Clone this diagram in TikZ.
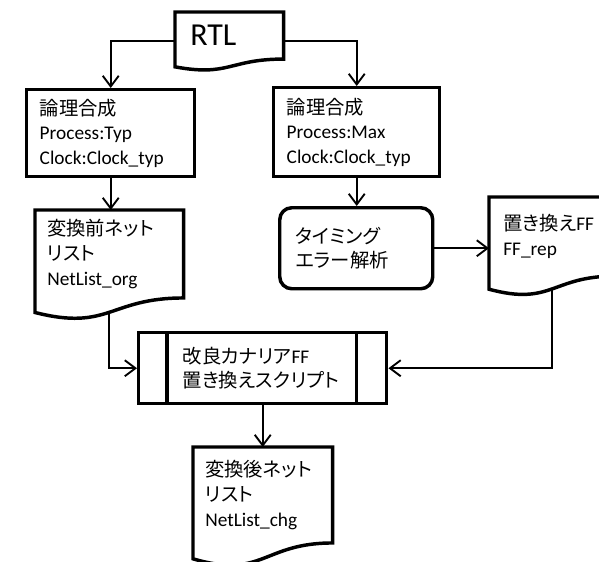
\documentclass[tikz,border=0pt]{standalone}
\usepackage{fontspec}
\setmainfont{Carlito}
\newfontfamily\jp{Noto Sans CJK JP}[RawFeature=+palt]
\usetikzlibrary{calc}
\usetikzlibrary{arrows.meta}

% document shape with a wavy foot below the node
\newcommand{\drawdoc}[1]{%
        \draw [boxline] let \p1 = ($(#1.north)-(#1.south)$) in
            (#1.north west) -- (#1.north east) -- (#1.south east)
            .. controls (#1.south) and ($(#1.south)+(0pt,-0.380*\y1)$) ..
            ($(#1.south west)+(0pt,-0.165*\y1)$) -- cycle;
        \path let \p1 = ($(#1.north)-(#1.south)$) in
            ($(#1.south)+(0pt,-0.1636*\y1)$) coordinate (#1-foot);
}

\begin{document}
\begin{tikzpicture}[x = 0.75pt, y = -0.75pt,
        boxline/.style = {line width = 2.6pt, line join = miter},
        link/.style = {line width = 1.4pt, arrows = -{Straight Barb[length = 8pt, width = 12pt]}},
        boxtext/.style = {anchor = north west, align = left, font = \fontsize{14.5pt}{18.5pt}\selectfont}]
        %   \draw [help lines, step = 50] (0,0) grid (599,561);
        \useasboundingbox (0,0) rectangle (599,561);
        \clip (0,0) rectangle (599,561);

        \node [boxtext, font = \fontsize{24pt}{28pt}\selectfont, minimum height = 34.9pt, text width = 58.5pt, inner xsep = 11.25pt] (rtl) at (175,12)
        {
        RTL
        };

        \node [boxtext, draw, boxline, minimum height = 65.25pt, text width = 106.5pt, inner xsep = 9.75pt] (syntyp) at (25,88)
        {
        {\jp 論理合成}\\Process:Typ\\Clock:Clock\_typ
        };

        \node [boxtext, draw, boxline, minimum height = 66.75pt, text width = 105pt, inner xsep = 9.75pt] (synmax) at (272,86)
        {
        {\jp 論理合成}\\Process:Max\\Clock:Clock\_typ
        };

        \node [boxtext, minimum height = 65.57pt, text width = 93pt, inner xsep = 9pt] (netorg) at (35,210)
        {
        {\jp 変換前ネット}\\{\jp リスト}\\NetList\_org
        };

        \node [boxtext, draw, boxline, rounded corners = 9pt, minimum height = 60.75pt, text width = 90.75pt, inner xsep = 12pt] (timing) at (278,206)
        {
        {\jp タイミング}\\{\jp エラー解析}
        };

        \node [boxtext, minimum height = 58.95pt, text width = 72.75pt, inner xsep = 10.5pt] (ffrep) at (489,197)
        {
        {\jp 置き換え}FF\\FF\_rep
        };

        \node [boxtext, draw, boxline, minimum height = 53.25pt, text width = 120pt, inner xsep = 33pt] (script) at (137,331)
        {
        {\jp 改良カナリア}FF\\{\jp 置き換えスクリプト}
        };

        \node [boxtext, minimum height = 71.57pt, text width = 86.25pt, inner xsep = 9pt] (netchg) at (193,447)
        {
        {\jp 変換後ネット}\\{\jp リスト}\\NetList\_chg
        };

        \drawdoc{rtl}
        \drawdoc{netorg}
        \drawdoc{ffrep}
        \drawdoc{netchg}

        \draw [boxline] ([xshift = 22.5pt]script.north west) -- ([xshift = 22.5pt]script.south west);
        \draw [boxline] ([xshift = -24pt]script.north east) -- ([xshift = -24pt]script.south east);

        \draw [link] ([yshift = -4.3pt]rtl.west) -| (syntyp.north);
        \draw [link] ([yshift = -4.3pt]rtl.east) -| (synmax.north);
        \draw [link] (syntyp.south) -- (syntyp.south |- netorg.north);
        \draw [link] (synmax.south) -- (synmax.south |- timing.north);
        \draw [link] (timing.east) -- (timing.east -| ffrep.west);
        \draw [link] (netorg-foot) |- (script.west);
        \draw [link] (ffrep-foot) |- (script.east);
        \draw [link] (script.south) -- (script.south |- netchg.north);
\end{tikzpicture}
\end{document}
